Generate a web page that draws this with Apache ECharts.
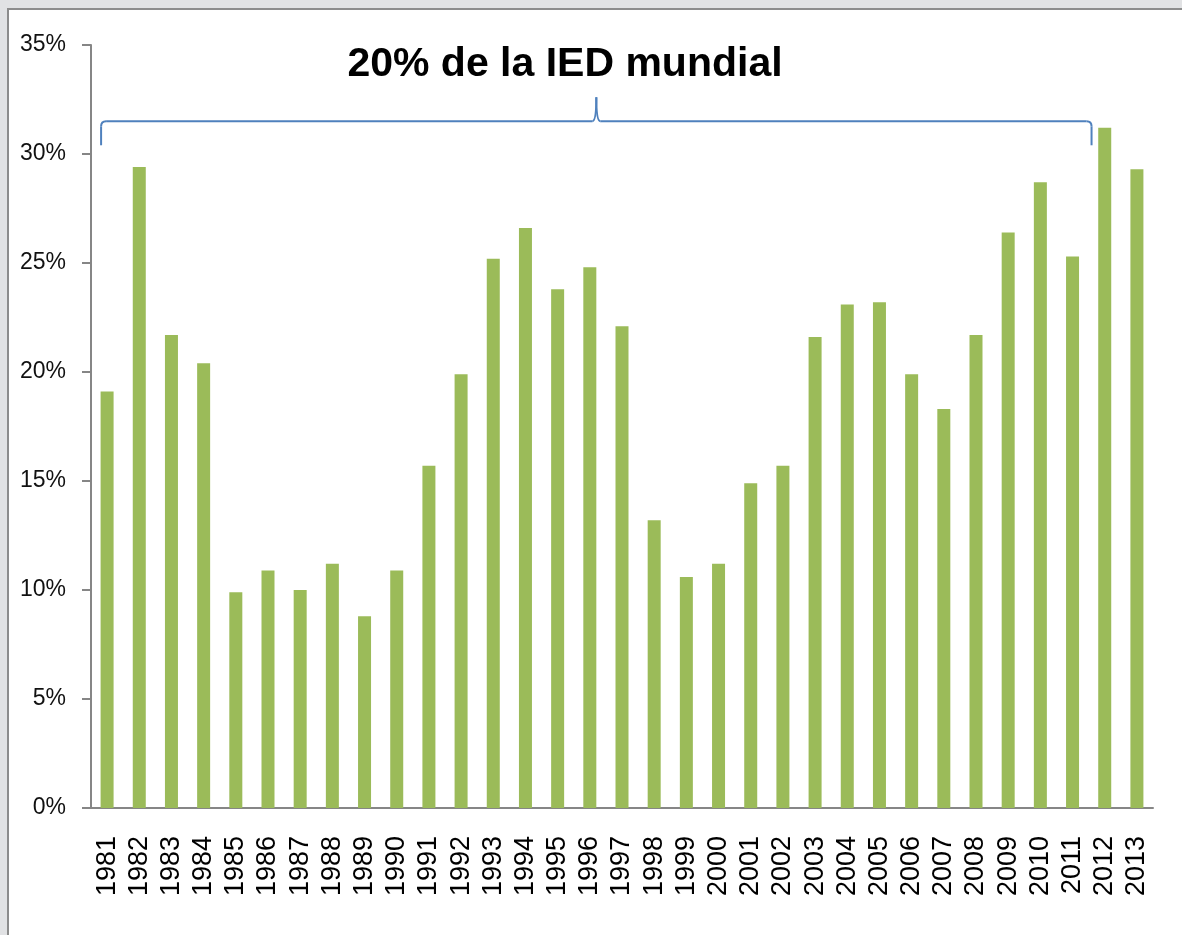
<!DOCTYPE html>
<html>
<head>
<meta charset="utf-8">
<script src="https://cdn.jsdelivr.net/npm/echarts@6/dist/echarts.min.js"></script>
<style>
  html, body { margin: 0; padding: 0; background: #e1e2e4; }
  #frame {
    position: absolute; left: 7px; top: 8px; width: 1175px; height: 927px;
    background: #fff; border-left: 2px solid #8c8c8c; border-top: 2px solid #8c8c8c;
  }
  #chart { position: absolute; left: -9px; top: -10px; width: 1182px; height: 935px; }
</style>
</head>
<body>
<div id="frame"><div id="chart"></div></div>
<script>
// años
const years = ['1981', '1982', '1983', '1984', '1985', '1986', '1987', '1988', '1989', '1990',
  '1991', '1992', '1993', '1994', '1995', '1996', '1997', '1998', '1999', '2000',
  '2001', '2002', '2003', '2004', '2005', '2006', '2007', '2008', '2009', '2010',
  '2011', '2012', '2013']
// participación (%)
const shares = [19.1, 29.4, 21.7, 20.4, 9.9, 10.9, 10.0, 11.2, 8.8, 10.9,
  15.7, 19.9, 25.2, 26.6, 23.8, 24.8, 22.1, 13.2, 10.6, 11.2,
  14.9, 15.7, 21.6, 23.1, 23.2, 19.9, 18.3, 21.7, 26.4, 28.7,
  25.3, 31.2, 29.3]
const yTicks = [0, 5, 10, 15, 20, 25, 30, 35]
const braceTitle = '20% de la IED mundial'
const braceFrom = '1981', braceTo = '2011'

const chart = echarts.init(document.getElementById('chart'))
chart.setOption({
  animation: false,
  grid: { left: 91, right: 29, top: 45, bottom: 127 },
  title: {
    text: braceTitle, left: 560, top: 39, textAlign: 'center',
    textStyle: { fontFamily: 'Liberation Sans', fontWeight: 'bold', fontSize: 41, color: '#000' }
  },
  xAxis: {
    type: 'category',
    data: years,
    axisLine: { lineStyle: { color: '#868686', width: 2 } },
    axisTick: { length: 10, lineStyle: { color: '#868686', width: 2 } },
    axisLabel: {
      rotate: 90, margin: 28, color: '#000', fontSize: 27, fontFamily: 'Liberation Sans',
      interval: 0
    }
  },
  yAxis: {
    type: 'value',
    min: yTicks[0], max: yTicks[yTicks.length - 1], interval: 5,
    splitLine: { show: false },
    axisLine: { show: true, lineStyle: { color: '#868686', width: 2 } },
    axisTick: { show: true, length: 9, lineStyle: { color: '#868686', width: 2 } },
    axisLabel: {
      formatter: '{value}%', color: '#111', fontSize: 23, margin: 25,
      fontFamily: 'Liberation Sans', padding: [6, 0, 0, 0]
    }
  },
  series: [{
    type: 'bar',
    data: shares,
    barWidth: 13,
    itemStyle: { color: '#9bbb59' }
  }]
})

// llave sobre los años 1981-2011
function drawBrace() {
  const p0 = chart.convertToPixel({ xAxisIndex: 0, yAxisIndex: 0 }, [braceFrom, 30.4])
  const p1 = chart.convertToPixel({ xAxisIndex: 0, yAxisIndex: 0 }, [braceTo, 31.5])
  const pk = chart.convertToPixel({ yAxisIndex: 0 }, 32.6)
  const x0 = p0[0] - 6, x1 = p1[0] + 19, yb = p0[1], yh = p1[1]
  const xm = (x0 + x1) / 2
  const r = 5
  const st = { stroke: '#4f81bd', lineWidth: 2, fill: null }
  const line = (a, b, c, d) => ({ type: 'line', shape: { x1: a, y1: b, x2: c, y2: d }, style: st })
  const curve = (a, b, ca, cb, c, d) => ({
    type: 'bezierCurve', shape: { x1: a, y1: b, cpx1: ca, cpy1: cb, x2: c, y2: d }, style: st
  })
  chart.setOption({
    graphic: [
      line(x0, yb, x0, yh + r),
      curve(x0, yh + r, x0, yh, x0 + r, yh),
      line(x0 + r, yh, xm - 4, yh),
      curve(xm - 4, yh, xm, yh, xm, pk),
      curve(xm, pk, xm, yh, xm + 4, yh),
      line(xm + 4, yh, x1 - r, yh),
      curve(x1 - r, yh, x1, yh, x1, yh + r),
      line(x1, yh + r, x1, yb)
    ]
  })
}
drawBrace()
</script>
</body>
</html>
